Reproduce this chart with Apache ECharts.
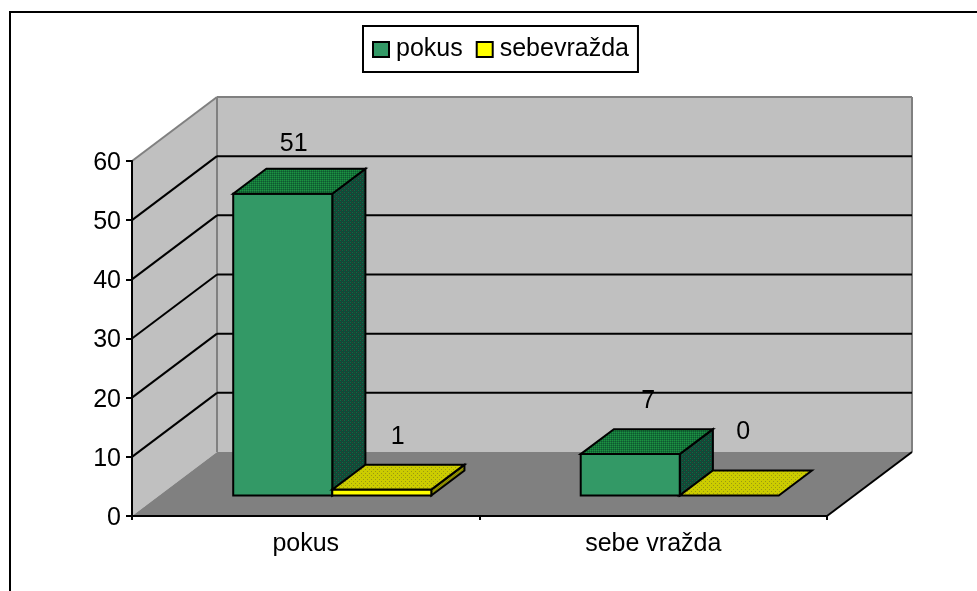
<!DOCTYPE html>
<html>
<head>
<meta charset="utf-8">
<style>
html, body { margin: 0; padding: 0; background: #fff; }
#chart { width: 977px; height: 591px; }
</style>
<script src="https://cdn.jsdelivr.net/npm/echarts@6/dist/echarts.min.js"></script>
</head>
<body>
<div id="chart"></div>
<script>
var categories = ['pokus', 'sebe vražda'];
var pokusValues = [51, 7];
var sebevrazdaValues = [1, 0];
var yTicks = [10, 20, 30, 40, 50];

var FONT = '"Liberation Sans", Arial, sans-serif';
var DEPTH_X = 85;
var DEPTH_Y = -64;

// small dither tiles, the old chart shades its 3d faces like this
function tile(colors, rows) {
    var c = document.createElement('canvas');
    c.width = rows[0].length;
    c.height = rows.length;
    var ctx = c.getContext('2d');
    rows.forEach(function (row, y) {
        row.split('').forEach(function (k, x) {
            ctx.fillStyle = colors[k];
            ctx.fillRect(x, y, 1, 1);
        });
    });
    return { image: c, repeat: 'repeat' };
}

var greenTop = tile({ a: '#1a9640', b: '#17703a', c: '#0c5a30' }, ['abab', 'bcbc', 'abab', 'bcbc']);
var greenSide = tile({ a: '#0f6a42', b: '#0f4a38', c: '#3a3a34' }, ['abcb', 'bbbb', 'cbab', 'bbbb']);
var yellowTop = tile({ a: '#cccc00', b: '#9a9a10' }, ['aaaa', 'abaa', 'aaaa', 'aaab']);
var yellowSide = tile({ a: '#999900', b: '#7f7f00' }, ['ab', 'ba']);

// where a point sits when pushed back into the floor, d = 0 front, d = 1 back wall
function back(p, d) {
    return [p[0] + DEPTH_X * d, p[1] + DEPTH_Y * d];
}

function renderWalls(params, api) {
    var lb = api.coord([0, 0]);
    var band = api.size([1, 0])[0];
    var left = lb[0] - band / 2;
    var right = left + band * categories.length;
    var bottom = lb[1];
    var top = api.coord([0, 60])[1];
    var children = [];

    function poly(points, fill) {
        children.push({
            type: 'polygon',
            shape: { points: points },
            style: { fill: fill }
        });
    }
    function line(a, b, color, width) {
        children.push({
            type: 'line',
            shape: { x1: a[0], y1: a[1], x2: b[0], y2: b[1] },
            style: { stroke: color, lineWidth: width }
        });
    }

    poly([[left, top], back([left, top], 1), back([left, bottom], 1), [left, bottom]], '#c0c0c0');
    poly([back([left, top], 1), back([right, top], 1), back([right, bottom], 1), back([left, bottom], 1)], '#c0c0c0');
    poly([[left, bottom], back([left, bottom], 1), back([right, bottom], 1), [right, bottom]], '#808080');

    line([left, top], back([left, top], 1), '#808080', 2);
    line(back([left, top], 1), back([right, top], 1), '#808080', 2);
    line(back([left, top], 1), back([left, bottom], 1), '#808080', 2);
    line(back([right, top], 1), back([right, bottom], 1), '#808080', 2);
    line([right, bottom], back([right, bottom], 1), '#000', 2);

    yTicks.forEach(function (t) {
        var y = api.coord([0, t])[1];
        line([left, y], back([left, y], 1), '#000', 2);
        line(back([left, y], 1), back([right, y], 1), '#000', 2);
    });
    return { type: 'group', children: children };
}

var GAP = 0.213;
var BAR = 0.285;
var D0 = 0.32;
var DD = 0.39;

function barRenderer(slot, front, topFace, side, shifts) {
    return function (params, api) {
        var i = api.value(0);
        var v = api.value(1);
        var band = api.size([1, 0])[0];
        var c = api.coord([i, 0]);
        var h = api.coord([i, 0])[1] - api.coord([i, v])[1];
        var x0 = c[0] - band / 2 + (GAP + BAR * slot) * band;
        var x1 = x0 + BAR * band;
        var fb0 = back([x0, c[1]], D0);
        var fb1 = back([x1, c[1]], D0);
        var ft0 = [fb0[0], fb0[1] - h];
        var ft1 = [fb1[0], fb1[1] - h];
        var tb0 = back(ft0, DD);
        var tb1 = back(ft1, DD);
        var bb1 = back(fb1, DD);
        var edge = { stroke: '#000', lineWidth: 2, lineJoin: 'miter' };
        var children = [];

        if (v > 0) {
            children.push({ type: 'polygon', shape: { points: [ft1, fb1, bb1, tb1] }, style: Object.assign({ fill: side }, edge) });
            children.push({ type: 'polygon', shape: { points: [ft0, ft1, fb1, fb0] }, style: Object.assign({ fill: front }, edge) });
        }
        children.push({ type: 'polygon', shape: { points: [ft0, ft1, tb1, tb0] }, style: Object.assign({ fill: topFace }, edge) });
        children.push({
            type: 'text',
            style: {
                x: (ft0[0] + ft1[0]) / 2 + shifts[i][0],
                y: ft0[1] + shifts[i][1],
                text: String(v),
                font: '25px ' + FONT,
                fill: '#000',
                align: 'center',
                verticalAlign: 'middle'
            }
        });
        return { type: 'group', children: children };
    };
}

function rows(values) {
    return values.map(function (v, i) { return [i, v]; });
}

var chartDom = document.getElementById('chart');
var myChart = echarts.init(chartDom);

var option = {
    animation: false,
    backgroundColor: '#fff',
    grid: { left: 132, right: 150, top: 161, bottom: 75 },
    legend: {
        left: 363,
        top: 26,
        orient: 'horizontal',
        icon: 'rect',
        padding: [11, 9, 10, 9],
        borderColor: '#000',
        borderWidth: 2,
        itemWidth: 16,
        itemHeight: 15,
        itemGap: 13,
        data: ['pokus', 'sebevražda'],
        textStyle: { fontFamily: FONT, fontSize: 25, color: '#000', padding: [3, 0, 0, 2] },
        itemStyle: { borderColor: '#000', borderWidth: 2 }
    },
    xAxis: {
        type: 'category',
        data: categories,
        z: 10,
        axisLine: { lineStyle: { color: '#000', width: 2 } },
        axisTick: { show: true, length: 4, alignWithLabel: false, lineStyle: { color: '#000', width: 2 } },
        axisLabel: { fontFamily: FONT, fontSize: 25, color: '#000', margin: 16 }
    },
    yAxis: {
        type: 'value',
        min: 0,
        max: 60,
        interval: 10,
        z: 10,
        splitLine: { show: false },
        axisLine: { show: true, lineStyle: { color: '#000', width: 2 } },
        axisTick: { show: true, length: 6, lineStyle: { color: '#000', width: 2 } },
        axisLabel: {
            margin: 11,
            formatter: '{n|{value}}',
            rich: { n: { fontFamily: FONT, fontSize: 25, color: '#000', padding: [4, 0, 0, 0] } }
        }
    },
    series: [
        {
            type: 'custom',
            name: 'walls',
            silent: true,
            z: 1,
            renderItem: renderWalls,
            data: [[0, 0]],
            encode: { x: 0, y: 1 }
        },
        {
            type: 'custom',
            name: 'pokus',
            z: 3,
            itemStyle: { color: '#339966' },
            renderItem: barRenderer(0, '#339966', greenTop, greenSide, [[11, -50], [18, -53]]),
            data: rows(pokusValues),
            encode: { x: 0, y: 1 }
        },
        {
            type: 'custom',
            name: 'sebevražda',
            z: 4,
            itemStyle: { color: '#ffff00' },
            renderItem: barRenderer(1, '#ffff00', yellowTop, yellowSide, [[16, -52], [14, -63]]),
            data: rows(sebevrazdaValues),
            encode: { x: 0, y: 1 }
        }
    ],
    graphic: [
        {
            type: 'polyline',
            shape: { points: [[10, 591], [10, 12], [977, 12]] },
            style: { stroke: '#000', lineWidth: 2, fill: null },
            silent: true
        }
    ]
};

option && myChart.setOption(option);
new ResizeObserver(function () { myChart.resize(); }).observe(chartDom);
</script>
</body>
</html>
